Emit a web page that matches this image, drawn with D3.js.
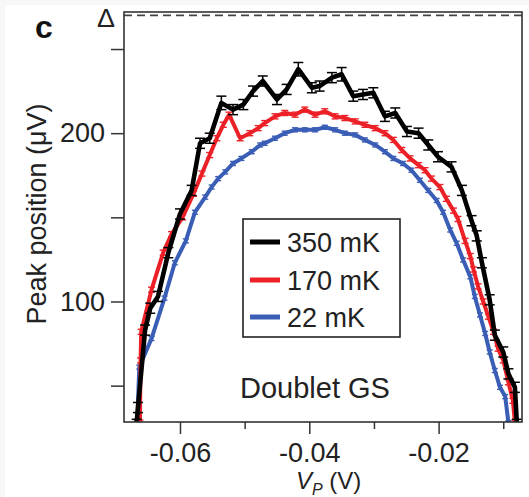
<!DOCTYPE html>
<html><head><meta charset="utf-8">
<script src="https://cdn.jsdelivr.net/npm/d3@7"></script>
<style>
html,body{margin:0;padding:0;background:#f7f7f7;}
svg{display:block;font-family:"Liberation Sans",Arial,Helvetica,sans-serif;}
</style></head><body>
<svg id="chart" width="529" height="497"></svg>
<script>
// ---- data (V_P in volts, peak position in microvolts) ----
const seriesNames = ["350 mK", "170 mK", "22 mK"];

const blackX = [-0.0667,-0.0665,-0.0654,-0.0646,-0.0634,-0.0618,-0.0600,-0.0582,-0.0569,-0.0554,-0.0536,-0.0518,-0.0502,-0.0487,-0.0472,-0.0450,-0.0435,-0.0417,-0.0396,-0.0384,-0.0365,-0.0350,-0.0332,-0.0317,-0.0301,-0.0283,-0.0267,-0.0249,-0.0231,-0.0216,-0.0201,-0.0180,-0.0164,-0.0149,-0.0141,-0.0133,-0.0121,-0.0113,-0.0100,-0.0092,-0.0082,-0.0079];
const blackY = [28,37,83,96,103,129,152,166,194,197,218,214,217,225,231,220,226,238,227,228,233,235,222,223,224,210,212,201,200,193,186,180,166,148,139,123,101,80,70,57,49,28];
const blackErr = [2,3,3,3,3,3,3,3,3,3,4,3,3,3,3,3,3,4,3,3,3,4,3,3,3,3,3,3,3,3,3,3,3,3,3,3,3,3,3,3,3,2];

const redX = [-0.0662,-0.0661,-0.0660,-0.0644,-0.0626,-0.0613,-0.0596,-0.0579,-0.0566,-0.0554,-0.0543,-0.0533,-0.0524,-0.0507,-0.0492,-0.0479,-0.0469,-0.0453,-0.0438,-0.0422,-0.0407,-0.0391,-0.0376,-0.0360,-0.0345,-0.0329,-0.0314,-0.0298,-0.0283,-0.0270,-0.0257,-0.0244,-0.0231,-0.0221,-0.0211,-0.0198,-0.0188,-0.0177,-0.0170,-0.0159,-0.0151,-0.0146,-0.0139,-0.0131,-0.0123,-0.0115,-0.0108,-0.0100,-0.0092,-0.0085,-0.0082];
const redY = [28,65,82,107,129,140,150,164,176,187,197,205,211,197,200,203,206,210,212,211,214,211,213,210,209,207,205,203,200,196,190,185,181,178,173,168,161,154,149,136,127,119,109,100,91,82,72,65,52,41,28];
const redErr = [1.5,1.5,1.5,1.5,1.5,1.5,1.5,1.5,1.5,1.5,1.5,1.5,1.5,1.5,1.5,1.5,1.5,1.5,1.5,1.5,1.5,1.5,1.5,1.5,1.5,1.5,1.5,1.5,1.5,1.5,1.5,1.5,1.5,1.5,1.5,1.5,1.5,1.5,1.5,1.5,1.5,1.5,1.5,1.5,1.5,1.5,1.5,1.5,1.5,1.5,1.5];

const blueX = [-0.0666,-0.0663,-0.0644,-0.0624,-0.0608,-0.0591,-0.0577,-0.0561,-0.0551,-0.0541,-0.0530,-0.0518,-0.0505,-0.0489,-0.0476,-0.0469,-0.0453,-0.0438,-0.0422,-0.0407,-0.0391,-0.0376,-0.0360,-0.0345,-0.0329,-0.0314,-0.0298,-0.0283,-0.0270,-0.0255,-0.0242,-0.0229,-0.0216,-0.0203,-0.0193,-0.0182,-0.0172,-0.0162,-0.0151,-0.0144,-0.0136,-0.0128,-0.0121,-0.0113,-0.0105,-0.0097,-0.0092];
const blueY = [28,61,78,102,123,136,153,162,168,173,177,182,185,189,193,194,197,200,202,202,202,203.5,202,200,199,196,193,189,185,182,178,172,166,160,153,142.5,134.6,124.7,114.7,103,92,81,70,59,49,43.5,28];
const blueErr = [1.2,1.2,1.2,1.2,1.2,1.2,1.2,1.2,1.2,1.2,1.2,1.2,1.2,1.2,1.2,1.2,1.2,1.2,1.2,1.2,1.2,1.2,1.2,1.2,1.2,1.2,1.2,1.2,1.2,1.2,1.2,1.2,1.2,1.2,1.2,1.2,1.2,1.2,1.2,1.2,1.2,1.2,1.2,1.2,1.2,1.2,1.2];

const xMajorTicks = [-0.06, -0.04, -0.02];
const xMinorTicks = [-0.05, -0.03, -0.01];
const yTicks = [50, 100, 150, 200, 250];
const yLabelTicks = [100, 200];
const gapValue = 270;   // superconducting gap Δ marker (µV)

// ---- layout ----
const svg = d3.select("#chart");
const W = 529, H = 497;
const L = 124, R = 522, T = 12, B = 422;
const FONT = 27;

svg.append("rect").attr("x", 5).attr("y", 5).attr("width", W - 5).attr("height", H - 5).attr("fill", "#fff");

const x = d3.scaleLinear().domain([-0.06866, -0.0071]).range([L, R]);
const y = d3.scaleLinear().domain([28.4, 272]).range([B, T]);

svg.append("defs").append("clipPath").attr("id", "clip")
  .append("rect").attr("x", L).attr("y", T).attr("width", R - L).attr("height", B - T);

const xMajor = d3.axisBottom(x).tickValues(xMajorTicks).tickSize(12).tickPadding(9)
  .tickFormat(d => d.toFixed(2));
const xMinor = d3.axisBottom(x).tickValues(xMinorTicks).tickSize(7).tickFormat("");
const yAxis = d3.axisLeft(y).tickValues(yTicks).tickSize(13).tickPadding(6)
  .tickFormat(d => yLabelTicks.includes(d) ? String(d) : "");

function styleAxis(g) {
  g.select(".domain").remove();
  g.selectAll(".tick line").attr("stroke", "#333").attr("stroke-width", 1.5);
  g.selectAll(".tick text").attr("fill", "#222").style("font-size", FONT + "px")
    .style("font-family", '"Liberation Sans",Arial,Helvetica,sans-serif');
}
svg.append("g").attr("transform", `translate(0,${B})`).call(xMajor).call(styleAxis);
svg.append("g").attr("transform", `translate(0,${B})`).call(xMinor).call(styleAxis);
svg.append("g").attr("transform", `translate(${L},0)`).call(yAxis).call(styleAxis);

svg.append("line").attr("x1", L).attr("x2", R).attr("y1", y(gapValue)).attr("y2", y(gapValue))
  .attr("stroke", "#444").attr("stroke-width", 1.8).attr("stroke-dasharray", "8,5");

const series = [
  { name: seriesNames[2], xs: blueX, ys: blueY, es: blueErr, color: "#3a5db5", lw: 4, cap: 6, ew: 1.4 },
  { name: seriesNames[1], xs: redX, ys: redY, es: redErr, color: "#ec2027", lw: 4, cap: 7, ew: 1.4 },
  { name: seriesNames[0], xs: blackX, ys: blackY, es: blackErr, color: "#000", lw: 4.6, cap: 10, ew: 1.5 }
];

const line = d3.line().x(d => x(d[0])).y(d => y(d[1]));
const plot = svg.append("g").attr("clip-path", "url(#clip)");

series.forEach(s => {
  const pts = s.xs.map((v, i) => [v, s.ys[i], s.es[i]]);
  const g = plot.append("g");
  g.append("path").datum(pts).attr("d", line).attr("fill", "none")
    .attr("stroke", s.color).attr("stroke-width", s.lw)
    .attr("stroke-linejoin", "round").attr("stroke-linecap", "butt");
  const eb = g.selectAll("g.eb").data(pts).enter().append("g");
  eb.append("line").attr("x1", d => x(d[0])).attr("x2", d => x(d[0]))
    .attr("y1", d => y(d[1] - d[2])).attr("y2", d => y(d[1] + d[2]))
    .attr("stroke", s.color).attr("stroke-width", s.ew);
  [1, -1].forEach(sg => {
    eb.append("line").attr("x1", d => x(d[0]) - s.cap / 2).attr("x2", d => x(d[0]) + s.cap / 2)
      .attr("y1", d => y(d[1] + sg * d[2])).attr("y2", d => y(d[1] + sg * d[2]))
      .attr("stroke", s.color).attr("stroke-width", s.ew);
  });
});

svg.append("rect").attr("x", L).attr("y", T).attr("width", R - L).attr("height", B - T)
  .attr("fill", "none").attr("stroke", "#333").attr("stroke-width", 1.6);

const lg = svg.append("g");
lg.append("rect").attr("x", 243).attr("y", 219).attr("width", 157).attr("height", 118)
  .attr("fill", "#fff").attr("stroke", "#222").attr("stroke-width", 1.6);
const legendItems = [series[2], series[1], series[0]];
const legendY = [242, 280, 317];
legendItems.forEach((s, i) => {
  lg.append("line").attr("x1", 250).attr("x2", 280).attr("y1", legendY[i]).attr("y2", legendY[i])
    .attr("stroke", s.color).attr("stroke-width", 5);
  lg.append("text").attr("x", 287).attr("y", legendY[i] + 9.5).attr("fill", "#222")
    .style("font-size", FONT + "px").text(s.name);
});

svg.append("text").attr("x", 240).attr("y", 398).attr("fill", "#222")
  .style("font-size", "29px").text("Doublet GS");
svg.append("text").attr("x", 35).attr("y", 38).attr("fill", "#111")
  .style("font-size", "32px").style("font-weight", "bold").text("c");
svg.append("text").attr("x", 97).attr("y", 27).attr("fill", "#222")
  .attr("textLength", 18).attr("lengthAdjust", "spacingAndGlyphs")
  .style("font-size", "25px").text("Δ");

svg.append("text").attr("transform", "translate(46,214) rotate(-90)")
  .attr("text-anchor", "middle").attr("fill", "#222").style("font-size", FONT + "px")
  .text("Peak position (μV)");
const xt = svg.append("text").attr("x", 296).attr("y", 489).attr("fill", "#222")
  .style("font-size", "24px");
xt.append("tspan").style("font-style", "italic").text("V");
xt.append("tspan").style("font-style", "italic").style("font-size", "16px").attr("dy", 6).text("P");
xt.append("tspan").attr("dy", -6).text(" (V)");
</script>
</body></html>
